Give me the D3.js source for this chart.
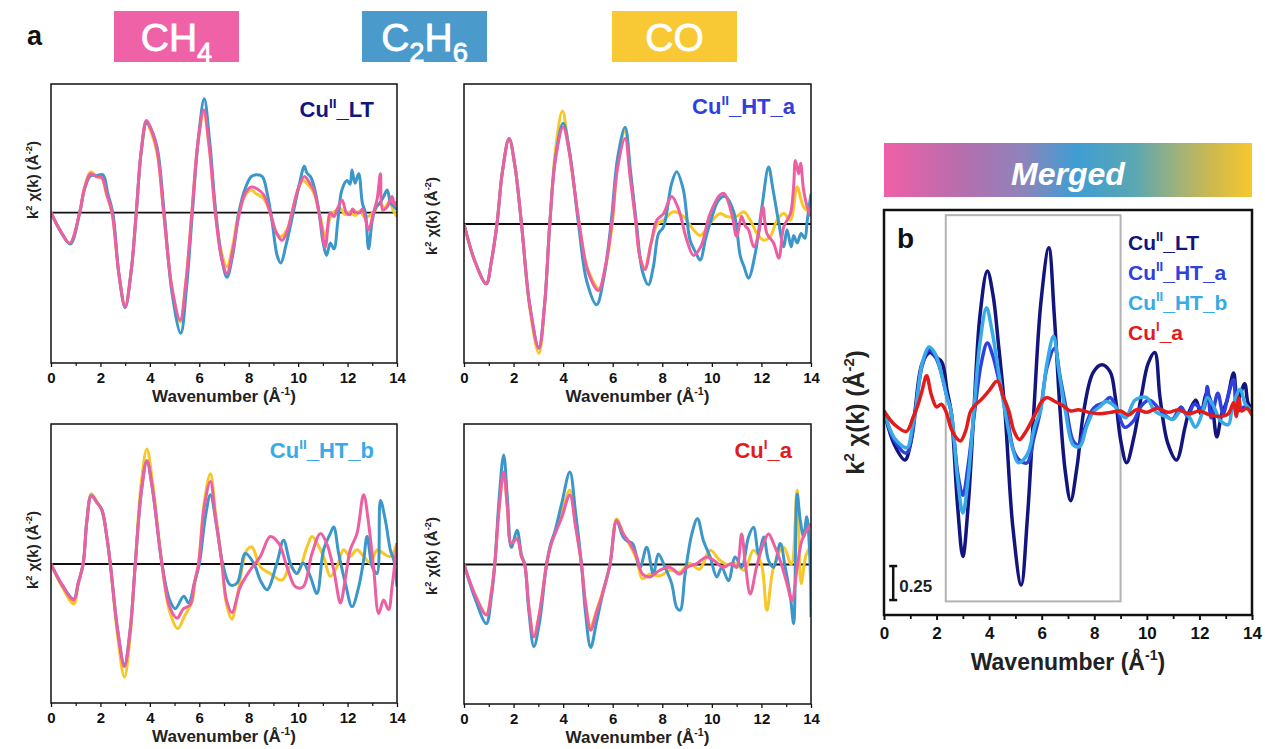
<!DOCTYPE html>
<html><head><meta charset="utf-8">
<script src="https://cdn.jsdelivr.net/npm/d3@7"></script>
<style>
html,body{margin:0;padding:0;background:#fff;}
svg{display:block;font-family:Arial,"Liberation Sans",sans-serif;}
</style></head>
<body>
<svg id="chart" width="1265" height="749"></svg>
<script>
// ---------------- DATA ----------------
const kTicks = [0, 2, 4, 6, 8, 10, 12, 14];
const kMinorTicks = [1, 3, 5, 7, 9, 11, 13];
const gases = ["CH4", "C2H6", "CO"];
const samples = ["CuII_LT", "CuII_HT_a", "CuII_HT_b", "CuI_a"];
const scaleBarValue = 0.25;
const highlightK = [2.35, 9.0];
const highlightV = [-1.4, 1.44];

// Panel a1 : Cu(II)_LT
const lt_CH4 = [[0,0],[0.4,-0.2],[0.76,-0.32],[1.16,0],[1.35,0.25],[1.6,0.41],[1.85,0.38],[2.06,0.37],[2.25,0.2],[2.47,0],[2.75,-0.65],[3.0,-0.99],[3.25,-0.6],[3.45,0],[3.65,0.65],[3.86,0.97],[4.05,0.88],[4.29,0.66],[4.56,0],[4.9,-0.8],[5.23,-1.13],[5.45,-0.75],[5.7,0],[5.95,0.75],[6.18,1.08],[6.4,0.7],[6.65,0],[6.9,-0.48],[7.12,-0.64],[7.35,-0.4],[7.63,0],[7.85,0.2],[8.09,0.27],[8.35,0.25],[8.6,0.19],[8.87,0],[9.1,-0.2],[9.35,-0.29],[9.55,-0.2],[9.75,0],[10.0,0.25],[10.25,0.38],[10.45,0.32],[10.63,0.24],[10.9,-0.08],[11.1,-0.36],[11.3,0],[11.45,-0.04],[11.57,0.03],[11.78,0.13],[11.95,0],[12.1,-0.02],[12.2,0.04],[12.3,0.01],[12.5,0],[12.6,0.04],[12.72,-0.06],[12.85,-0.18],[13.05,0],[13.2,0.15],[13.33,0.41],[13.42,0.03],[13.6,0.06],[13.8,0.17],[13.9,0.08],[14,0.12]];
const lt_C2H6 = [[0,0],[0.4,-0.2],[0.78,-0.33],[1.16,0],[1.35,0.24],[1.6,0.39],[1.85,0.39],[2.1,0.4],[2.3,0.2],[2.5,0],[2.75,-0.65],[3.0,-1.0],[3.25,-0.6],[3.45,0],[3.65,0.64],[3.87,0.95],[4.05,0.88],[4.3,0.68],[4.58,0],[4.9,-0.85],[5.25,-1.27],[5.48,-0.8],[5.72,0],[5.97,0.8],[6.2,1.2],[6.42,0.75],[6.67,0],[6.92,-0.5],[7.12,-0.68],[7.35,-0.45],[7.6,0],[7.85,0.25],[8.1,0.38],[8.3,0.4],[8.55,0.38],[8.75,0.2],[8.95,-0.1],[9.15,-0.45],[9.3,-0.53],[9.5,-0.35],[9.8,0],[10.05,0.3],[10.25,0.49],[10.35,0.42],[10.5,0.38],[10.65,0.27],[10.85,0],[11.0,-0.3],[11.15,-0.45],[11.3,-0.32],[11.45,-0.38],[11.6,-0.1],[11.77,0.24],[11.98,0.34],[12.1,0.3],[12.18,0.45],[12.3,0.31],[12.45,0.41],[12.6,0.1],[12.72,0],[12.85,-0.38],[13.0,-0.08],[13.15,0.06],[13.3,0.1],[13.46,0.17],[13.6,0.24],[13.75,0.1],[13.9,0.06],[14,0.03]];
const lt_CO = [[0,0],[0.4,-0.2],[0.76,-0.32],[1.16,0],[1.35,0.26],[1.6,0.43],[1.85,0.38],[2.06,0.36],[2.25,0.19],[2.47,0],[2.75,-0.65],[3.0,-0.98],[3.25,-0.6],[3.45,0],[3.65,0.64],[3.86,0.95],[4.05,0.85],[4.3,0.62],[4.56,0],[4.9,-0.8],[5.23,-1.15],[5.45,-0.75],[5.7,0],[5.95,0.74],[6.18,1.05],[6.4,0.7],[6.65,0],[6.9,-0.42],[7.12,-0.57],[7.35,-0.35],[7.6,0],[7.85,0.18],[8.1,0.24],[8.3,0.2],[8.6,0.15],[8.87,0],[9.1,-0.2],[9.3,-0.25],[9.55,-0.18],[9.75,0],[10.0,0.25],[10.2,0.34],[10.45,0.28],[10.65,0.2],[10.9,-0.05],[11.1,-0.25],[11.3,-0.05],[11.5,0.02],[11.7,0.05],[11.9,-0.02],[12.1,0.01],[12.3,-0.03],[12.5,0.02],[12.7,-0.05],[12.9,-0.03],[13.1,0.02],[13.3,0.1],[13.5,0.05],[13.7,0.12],[13.85,0.02],[14,-0.04]];

// Panel a2 : Cu(II)_HT_a
const hta_CH4 = [[0,0],[0.45,-0.4],[0.9,-0.63],[1.1,-0.4],[1.33,0],[1.55,0.55],[1.82,0.9],[2.05,0.62],[2.32,0],[2.65,-0.85],[3.02,-1.31],[3.25,-0.85],[3.46,0],[3.7,0.7],[4.0,1.02],[4.25,0.75],[4.65,0],[5.0,-0.5],[5.42,-0.7],[5.7,-0.45],[5.96,0],[6.2,0.6],[6.5,0.9],[6.7,0.5],[6.94,0],[7.1,-0.35],[7.3,-0.48],[7.55,-0.2],[7.78,0.04],[8.05,0.11],[8.38,0.29],[8.65,0.16],[8.99,-0.17],[9.26,-0.33],[9.55,-0.24],[9.93,0.11],[10.34,0.31],[10.5,0.32],[10.8,0.11],[11.0,-0.13],[11.2,0.08],[11.35,-0.02],[11.48,-0.06],[11.69,-0.24],[11.89,-0.1],[12.06,0.18],[12.22,-0.1],[12.49,-0.2],[12.7,-0.36],[12.9,-0.03],[13.17,0.11],[13.3,0.4],[13.37,0.67],[13.5,0.53],[13.58,0.64],[13.7,0.36],[13.85,0.18],[14,0.08]];
const hta_C2H6 = [[0,0],[0.45,-0.4],[0.9,-0.63],[1.1,-0.4],[1.33,0],[1.55,0.55],[1.82,0.9],[2.05,0.62],[2.32,0],[2.65,-0.85],[3.02,-1.3],[3.25,-0.85],[3.46,0],[3.7,0.72],[4.0,1.06],[4.25,0.78],[4.62,0],[4.95,-0.6],[5.35,-0.85],[5.65,-0.55],[5.93,0],[6.2,0.7],[6.5,1.02],[6.72,0.55],[6.96,0],[7.2,-0.5],[7.44,-0.64],[7.64,-0.45],[7.85,-0.1],[8.05,-0.03],[8.38,0.43],[8.58,0.55],[8.85,0.36],[9.12,-0.17],[9.35,-0.3],[9.53,-0.38],[9.75,-0.15],[9.93,0.01],[10.27,0.25],[10.54,0.29],[10.88,0.13],[11.15,-0.34],[11.3,-0.45],[11.48,-0.57],[11.75,-0.31],[12.02,0.18],[12.29,0.6],[12.45,0.39],[12.7,0.01],[12.9,-0.24],[13.03,-0.06],[13.2,-0.24],[13.3,-0.12],[13.44,-0.2],[13.6,-0.1],[13.75,-0.15],[13.85,0.04],[14,0.32]];
const hta_CO = [[0,0],[0.45,-0.4],[0.9,-0.62],[1.1,-0.4],[1.33,0],[1.55,0.56],[1.82,0.9],[2.05,0.62],[2.32,0],[2.65,-0.88],[3.02,-1.36],[3.25,-0.88],[3.46,0],[3.7,0.8],[3.97,1.19],[4.2,0.85],[4.65,0],[5.0,-0.48],[5.45,-0.68],[5.75,-0.4],[5.98,0],[6.2,0.62],[6.5,0.98],[6.7,0.55],[6.94,0],[7.1,-0.35],[7.3,-0.46],[7.55,-0.2],[7.8,0],[8.05,0.04],[8.45,0.13],[8.85,0.08],[9.26,-0.06],[9.53,-0.12],[9.93,0.01],[10.34,0.11],[10.6,0.08],[11.0,0.08],[11.28,0.13],[11.55,0.04],[11.82,-0.1],[12.1,-0.17],[12.36,-0.13],[12.63,0.04],[12.9,0.11],[13.17,0.04],[13.44,0.39],[13.7,0.18],[14,0.11]];

// Panel a3 : Cu(II)_HT_b
const htb_CH4 = [[0,0],[0.45,-0.22],[0.92,-0.38],[1.1,-0.2],[1.3,0],[1.45,0.45],[1.63,0.72],[1.85,0.65],[2.06,0.57],[2.25,0.3],[2.4,0],[2.7,-0.7],[2.97,-1.08],[3.2,-0.7],[3.41,0],[3.65,0.75],[3.88,1.09],[4.1,0.8],[4.49,0],[4.8,-0.45],[5.1,-0.57],[5.36,-0.47],[5.63,-0.43],[5.8,-0.2],[5.97,0],[6.2,0.6],[6.45,0.87],[6.65,0.5],[6.92,0],[7.1,-0.38],[7.32,-0.51],[7.66,-0.24],[8.07,-0.06],[8.47,0.08],[8.87,0.29],[9.21,0.22],[9.55,-0.03],[9.89,-0.24],[10.2,-0.24],[10.56,0.11],[10.9,0.32],[11.15,0.22],[11.44,-0.06],[11.71,-0.41],[11.9,-0.17],[12.11,0.15],[12.38,0.32],[12.65,0.73],[12.85,0.43],[13.06,-0.06],[13.26,-0.52],[13.46,-0.38],[13.66,-0.48],[13.8,-0.24],[14,0.22]];
const htb_C2H6 = [[0,0],[0.45,-0.22],[0.92,-0.37],[1.1,-0.2],[1.3,0],[1.45,0.45],[1.63,0.72],[1.85,0.65],[2.06,0.57],[2.25,0.3],[2.4,0],[2.7,-0.7],[2.97,-1.06],[3.2,-0.7],[3.41,0],[3.65,0.75],[3.88,1.08],[4.1,0.8],[4.49,0],[4.8,-0.38],[5.03,-0.47],[5.37,-0.34],[5.57,-0.41],[5.8,-0.2],[6.0,0],[6.25,0.5],[6.45,0.73],[6.7,0.4],[6.95,0],[7.25,-0.22],[7.53,-0.2],[7.86,0.11],[8.2,0.01],[8.47,-0.17],[8.74,-0.27],[9.14,0.01],[9.41,0.25],[9.68,0.01],[9.95,-0.1],[10.2,0.01],[10.49,-0.13],[10.76,-0.31],[11.03,0.15],[11.3,0.32],[11.44,0.39],[11.64,0.11],[11.91,-0.2],[12.18,-0.45],[12.45,-0.24],[12.65,0.04],[12.79,0.29],[13.0,-0.03],[13.19,-0.1],[13.33,0.67],[13.53,0.46],[13.73,0.15],[13.87,0.04],[14,-0.24]];
const htb_CO = [[0,0],[0.45,-0.24],[0.92,-0.42],[1.1,-0.22],[1.3,0],[1.45,0.46],[1.63,0.74],[1.85,0.66],[2.06,0.56],[2.25,0.3],[2.4,0],[2.7,-0.77],[2.97,-1.19],[3.2,-0.77],[3.41,0],[3.65,0.85],[3.88,1.21],[4.1,0.88],[4.49,0],[4.8,-0.5],[5.13,-0.68],[5.4,-0.55],[5.7,-0.4],[5.85,-0.15],[5.97,0],[6.2,0.65],[6.45,0.95],[6.65,0.55],[6.92,0],[7.1,-0.42],[7.32,-0.58],[7.53,-0.35],[7.93,0.15],[8.13,0.18],[8.47,-0.03],[8.87,-0.1],[9.35,-0.17],[9.68,-0.03],[9.95,-0.1],[10.36,0.18],[10.56,0.29],[10.76,0.22],[11.03,0.08],[11.3,-0.13],[11.57,-0.03],[11.84,0.15],[12.1,0.08],[12.38,0.15],[12.65,0.08],[12.92,0.01],[13.2,0.15],[13.46,0.11],[13.73,0.08],[14,0.22]];

// Panel a4 : Cu(I)_a
const cua_CH4 = [[0,0],[0.45,-0.32],[0.9,-0.53],[1.1,-0.3],[1.24,0],[1.42,0.6],[1.6,0.97],[1.75,0.6],[1.91,0.22],[2.14,0.27],[2.32,0.08],[2.45,0],[2.62,-0.45],[2.82,-0.76],[3.05,-0.5],[3.33,0],[3.5,0.2],[3.67,0.32],[3.95,0.5],[4.27,0.73],[4.5,0.4],[4.74,0],[4.9,-0.4],[5.11,-0.69],[5.35,-0.5],[5.6,-0.3],[5.89,0],[6.16,0.46],[6.43,0.32],[6.7,0.22],[6.97,0.08],[7.2,-0.1],[7.5,-0.13],[7.9,-0.06],[8.31,-0.03],[8.7,-0.1],[8.99,-0.03],[9.39,0.01],[9.8,0.08],[10.1,0.04],[10.46,-0.03],[10.8,0.01],[11.0,-0.03],[11.2,0.32],[11.35,0.01],[11.55,-0.31],[11.8,-0.03],[12.08,0.22],[12.29,0.32],[12.49,0.22],[12.76,0.04],[13.03,-0.2],[13.23,-0.38],[13.44,-0.03],[13.63,0.25],[13.83,0.36],[14,0.43]];
const cua_C2H6 = [[0,0],[0.45,-0.36],[0.9,-0.62],[1.1,-0.35],[1.24,0],[1.42,0.7],[1.6,1.15],[1.75,0.7],[1.91,0.18],[2.14,0.36],[2.32,0.1],[2.45,0],[2.62,-0.5],[2.82,-0.86],[3.05,-0.6],[3.33,0],[3.5,0.22],[3.67,0.35],[3.95,0.65],[4.27,0.97],[4.5,0.55],[4.74,0],[4.9,-0.5],[5.11,-0.87],[5.35,-0.6],[5.6,-0.3],[5.89,0],[6.16,0.46],[6.4,0.3],[6.56,0.25],[6.8,0.22],[7.1,-0.03],[7.37,0.18],[7.64,-0.1],[7.84,0.11],[8.11,-0.03],[8.38,-0.2],[8.58,-0.45],[8.72,-0.48],[8.92,-0.1],[9.19,0.32],[9.42,0.48],[9.66,0.25],[9.93,0.08],[10.2,-0.13],[10.4,-0.03],[10.67,-0.17],[10.94,0.08],[11.2,-0.03],[11.48,0.29],[11.68,0.39],[11.89,0.11],[12.09,0.29],[12.29,0.04],[12.49,-0.03],[12.76,0.22],[12.96,-0.03],[13.17,-0.34],[13.3,-0.62],[13.44,0.74],[13.57,0.46],[13.7,0.29],[13.83,0.5],[13.95,0.1],[14,-0.55]];
const cua_CO = [[0,0],[0.45,-0.32],[0.9,-0.52],[1.1,-0.3],[1.24,0],[1.42,0.6],[1.6,0.96],[1.75,0.6],[1.91,0.22],[2.14,0.28],[2.32,0.08],[2.45,0],[2.62,-0.45],[2.82,-0.75],[3.05,-0.5],[3.33,0],[3.5,0.2],[3.67,0.33],[3.95,0.55],[4.27,0.78],[4.5,0.42],[4.74,0],[4.9,-0.4],[5.11,-0.65],[5.35,-0.48],[5.6,-0.28],[5.89,0],[6.16,0.48],[6.43,0.32],[6.7,0.2],[6.97,0.05],[7.2,-0.15],[7.5,-0.1],[7.9,-0.12],[8.31,-0.06],[8.7,-0.08],[9.1,0.01],[9.5,-0.05],[9.93,0.15],[10.3,0.05],[10.6,0.0],[10.94,0.01],[11.3,-0.06],[11.68,0.15],[12.0,0.0],[12.22,-0.48],[12.49,-0.03],[12.9,0.18],[13.2,0.0],[13.44,0.78],[13.6,-0.2],[13.8,0.1],[14,0.2]];

// Panel b : merged
const merged_LT = [[0,0],[0.4,-0.25],[0.8,-0.36],[1.0,-0.25],[1.18,0],[1.45,0.35],[1.75,0.43],[1.95,0.4],[2.2,0.36],[2.4,0.15],[2.55,0],[2.8,-0.7],[3.0,-1.07],[3.2,-0.7],[3.42,0],[3.65,0.7],[3.93,1.03],[4.15,0.85],[4.35,0.5],[4.6,0],[4.9,-0.85],[5.22,-1.28],[5.45,-0.8],[5.7,0],[5.97,0.8],[6.27,1.2],[6.48,0.7],[6.7,0],[6.9,-0.45],[7.1,-0.66],[7.35,-0.4],[7.6,0],[7.95,0.28],[8.28,0.34],[8.6,0.29],[8.8,0.1],[9.0,-0.21],[9.23,-0.38],[9.5,-0.2],[9.8,0.12],[10.05,0.35],[10.3,0.43],[10.5,0.1],[10.8,-0.24],[11.13,-0.36],[11.45,-0.12],[11.6,-0.01],[11.87,0.08],[12.05,-0.02],[12.28,0.13],[12.47,0.05],[12.66,-0.19],[12.85,-0.02],[13.04,0.07],[13.3,0.28],[13.45,0.08],[13.72,0.2],[13.85,0.06],[14,0.02]];
const merged_HTa = [[0,0],[0.4,-0.22],[0.85,-0.31],[1.05,-0.2],[1.2,0],[1.45,0.33],[1.72,0.45],[1.95,0.4],[2.15,0.3],[2.4,0.1],[2.55,0],[2.8,-0.45],[3.0,-0.62],[3.2,-0.4],[3.45,0],[3.7,0.35],[3.93,0.5],[4.15,0.4],[4.4,0.2],[4.65,0],[4.95,-0.3],[5.2,-0.37],[5.45,-0.38],[5.7,-0.2],[5.95,0],[6.2,0.32],[6.49,0.46],[6.7,0.25],[6.95,0],[7.2,-0.22],[7.4,-0.25],[7.6,-0.15],[7.9,0.0],[8.1,0.04],[8.35,0.06],[8.6,0.1],[8.85,0.02],[9.16,-0.12],[9.5,-0.07],[9.8,0.04],[10.1,0.08],[10.4,0.03],[10.7,-0.03],[10.97,-0.06],[11.3,0.03],[11.55,-0.04],[11.8,0.05],[12.15,0.01],[12.3,0.18],[12.45,-0.05],[12.7,0.13],[12.9,-0.02],[13.1,0.12],[13.3,0.23],[13.45,0.0],[13.7,0.03],[14,0.0]];
const merged_HTb = [[0,0],[0.4,-0.2],[0.88,-0.27],[1.05,-0.15],[1.2,0],[1.45,0.35],[1.72,0.47],[1.95,0.42],[2.15,0.3],[2.4,0.1],[2.55,0],[2.8,-0.5],[3.0,-0.75],[3.2,-0.5],[3.42,0],[3.65,0.5],[3.9,0.76],[4.1,0.6],[4.35,0.3],[4.6,0],[4.9,-0.28],[5.1,-0.38],[5.3,-0.36],[5.5,-0.3],[5.75,-0.1],[5.95,0],[6.2,0.35],[6.45,0.55],[6.65,0.3],[6.9,0],[7.2,-0.25],[7.45,-0.26],[7.7,-0.12],[7.95,-0.01],[8.2,0.03],[8.45,0.07],[8.75,0.04],[9.0,-0.02],[9.2,-0.05],[9.55,0.08],[9.98,0.1],[10.3,0.0],[10.7,-0.04],[11.0,-0.06],[11.3,0.0],[11.6,-0.04],[11.85,-0.12],[12.1,-0.02],[12.3,0.1],[12.55,0.03],[12.8,-0.07],[13.1,-0.1],[13.25,0.02],[13.55,0.16],[13.75,0.05],[14,0.0]];
const merged_CuIa = [[0,0],[0.4,-0.1],[0.85,-0.15],[1.1,-0.05],[1.3,0.05],[1.45,0.15],[1.62,0.26],[1.8,0.12],[2.0,0.03],[2.18,0.05],[2.35,0],[2.6,-0.15],[2.9,-0.22],[3.1,-0.15],[3.3,0],[3.5,0.05],[3.68,0.08],[4.0,0.15],[4.31,0.22],[4.55,0.1],[4.75,0],[4.95,-0.15],[5.15,-0.21],[5.4,-0.15],[5.6,-0.08],[5.81,0],[6.0,0.07],[6.2,0.1],[6.5,0.07],[6.8,0.04],[7.1,0.0],[7.4,0.01],[7.8,-0.01],[8.2,-0.02],[8.6,-0.01],[9.0,0.0],[9.3,-0.03],[9.6,0.01],[10.0,-0.01],[10.4,0.02],[10.8,-0.01],[11.2,0.01],[11.6,-0.02],[12.0,0.0],[12.4,-0.03],[12.8,-0.04],[13.1,-0.02],[13.3,0.06],[13.4,-0.04],[13.5,0.1],[13.6,0.0],[13.8,0.02],[14,-0.03]];

// ---------------- STYLE / LAYOUT ----------------
const gasColors = { CH4: "#ec5fa3", C2H6: "#3b97c9", CO: "#f6c726" };
const gasBox = { CH4: "#ef62a8", C2H6: "#4a9bcb", CO: "#f8c934" };
const sampleColors = { CuII_LT: "#12157e", CuII_HT_a: "#2f40dd", CuII_HT_b: "#38aae6", CuI_a: "#e41b1b" };
const FONT = 'Arial,"Liberation Sans",sans-serif';

const svg = d3.select("#chart");
const defs = svg.append("defs");

// rich text helper: parts = [[text, mode]] mode: "n" | "sup" | "sub"
function rich(textSel, parts, fs) {
  let shift = 0;
  parts.forEach(([t, mode]) => {
    const ts = textSel.append("tspan").text(t);
    let target = 0, size = fs;
    if (mode === "sup") { target = -0.42 * fs; size = 0.62 * fs; }
    if (mode === "sub") { target = 0.28 * fs; size = 0.7 * fs; }
    ts.attr("font-size", size);
    const dy = target - shift;
    if (dy !== 0) ts.attr("dy", dy);
    shift = target;
  });
  return textSel;
}
const cuParts = {
  CuII_LT: [["Cu","n"],["II","sup"],["_LT","n"]],
  CuII_HT_a: [["Cu","n"],["II","sup"],["_HT_a","n"]],
  CuII_HT_b: [["Cu","n"],["II","sup"],["_HT_b","n"]],
  CuI_a: [["Cu","n"],["I","sup"],["_a","n"]]
};
const yLabelParts = [["k","n"],["2","sup"],[" χ(k) (Å","n"],["-2","sup"],[")","n"]];
const xLabelParts = [["Wavenumber (Å","n"],["-1","sup"],[")","n"]];

// ---------- top legend boxes ----------
svg.append("text").attr("x", 27).attr("y", 45).attr("font-size", 27).attr("font-weight", "bold")
  .attr("fill", "#111").attr("font-family", FONT).text("a");

const gasBoxes = [
  { g: "CH4", x: 114, parts: [["CH","n"],["4","sub"]] },
  { g: "C2H6", x: 362, parts: [["C","n"],["2","sub"],["H","n"],["6","sub"]] },
  { g: "CO", x: 612, parts: [["CO","n"]] }
];
gasBoxes.forEach(b => {
  svg.append("rect").attr("x", b.x).attr("y", 11).attr("width", 125).attr("height", 51).attr("fill", gasBox[b.g]);
  const t = svg.append("text").attr("x", b.x + 62.5).attr("y", 51).attr("text-anchor", "middle")
    .attr("fill", "#fff").attr("font-family", FONT).attr("font-size", 39).attr("stroke", "#fff").attr("stroke-width", 0.8);
  rich(t, b.parts, 39);
});

// ---------- panels a ----------
const panelsA = [
  { sample: "CuII_LT", data: { CO: lt_CO, C2H6: lt_C2H6, CH4: lt_CH4 }, x0: 51, x1: 397, y0: 84, y1: 363, yDom: [-1.582, 1.355], lab: [374, 117], ylab: [38, 180] },
  { sample: "CuII_HT_a", data: { CO: hta_CO, C2H6: hta_C2H6, CH4: hta_CH4 }, x0: 464, x1: 811, y0: 84, y1: 363, yDom: [-1.463, 1.474], lab: [795, 114], ylab: [437, 216] },
  { sample: "CuII_HT_b", data: { CO: htb_CO, C2H6: htb_C2H6, CH4: htb_CH4 }, x0: 51, x1: 397, y0: 424, y1: 703, yDom: [-1.463, 1.474], lab: [374, 458], ylab: [38, 550] },
  { sample: "CuI_a", data: { CO: cua_CO, C2H6: cua_C2H6, CH4: cua_CH4 }, x0: 464, x1: 811, y0: 424, y1: 704, yDom: [-1.463, 1.474], lab: [792, 458], ylab: [437, 556] }
];

panelsA.forEach((p, i) => {
  const x = d3.scaleLinear().domain([0, 14]).range([p.x0, p.x1]);
  const y = d3.scaleLinear().domain(p.yDom).range([p.y1, p.y0]);
  const g = svg.append("g");
  const cid = "clipA" + i;
  defs.append("clipPath").attr("id", cid).append("rect")
    .attr("x", p.x0).attr("y", p.y0).attr("width", p.x1 - p.x0).attr("height", p.y1 - p.y0);

  // zero line
  g.append("line").attr("x1", x(0)).attr("x2", x(14)).attr("y1", y(0)).attr("y2", y(0))
    .attr("stroke", "#111").attr("stroke-width", 1.8);

  const line = d3.line().x(d => x(d[0])).y(d => y(d[1])).curve(d3.curveCatmullRom.alpha(0.5));
  const cg = g.append("g").attr("clip-path", `url(#${cid})`);
  ["CO", "C2H6", "CH4"].forEach(gas => {
    cg.append("path").datum(p.data[gas]).attr("d", line).attr("fill", "none")
      .attr("stroke", gasColors[gas]).attr("stroke-width", 3).attr("stroke-linejoin", "round");
  });

  // frame
  g.append("rect").attr("x", p.x0).attr("y", p.y0).attr("width", p.x1 - p.x0).attr("height", p.y1 - p.y0)
    .attr("fill", "none").attr("stroke", "#111").attr("stroke-width", 1.5);

  // axis
  const ax = g.append("g").attr("transform", `translate(0,${p.y1})`)
    .call(d3.axisBottom(x).tickValues(kTicks).tickSize(4).tickPadding(5).tickFormat(d3.format("d")));
  ax.select(".domain").remove();
  ax.selectAll("line").attr("stroke", "#111").attr("stroke-width", 1.3);
  ax.selectAll("text").attr("font-family", FONT).attr("font-size", 15).attr("font-weight", "bold").attr("fill", "#111");
  const axm = g.append("g").attr("transform", `translate(0,${p.y1})`)
    .call(d3.axisBottom(x).tickValues(kMinorTicks).tickSize(3).tickFormat(""));
  axm.select(".domain").remove();
  axm.selectAll("line").attr("stroke", "#111").attr("stroke-width", 1.2);

  // x label
  const xl = g.append("text").attr("x", (p.x0 + p.x1) / 2).attr("y", p.y1 + 39).attr("text-anchor", "middle")
    .attr("font-family", FONT).attr("font-weight", "bold").attr("fill", "#222").attr("font-size", 17);
  rich(xl, xLabelParts, 17);

  // y label
  const yl = g.append("text").attr("transform", `translate(${p.ylab[0]},${p.ylab[1]}) rotate(-90)`)
    .attr("text-anchor", "middle").attr("font-family", FONT).attr("font-weight", "bold").attr("fill", "#222").attr("font-size", 15);
  rich(yl, yLabelParts, 15);

  // sample label
  const sl = g.append("text").attr("x", p.lab[0]).attr("y", p.lab[1]).attr("text-anchor", "end")
    .attr("font-family", FONT).attr("font-weight", "bold").attr("fill", sampleColors[p.sample]).attr("font-size", 22);
  rich(sl, cuParts[p.sample], 22);
});

// ---------- panel b ----------
const B = { x0: 884, x1: 1252, y0: 210, y1: 615 };
const grad = defs.append("linearGradient").attr("id", "mergedGrad").attr("x1", "0%").attr("x2", "100%");
[[0, "#ef5fa7"], [0.22, "#b46fae"], [0.38, "#8d84bb"], [0.52, "#3f9dd3"], [0.68, "#5aa7b3"], [0.8, "#9fb27a"], [0.9, "#d1ba4a"], [1, "#f7c830"]]
  .forEach(([o, c]) => grad.append("stop").attr("offset", o).attr("stop-color", c));
svg.append("rect").attr("x", 884).attr("y", 143).attr("width", 368).attr("height", 54).attr("fill", "url(#mergedGrad)");
svg.append("text").attr("x", 1068).attr("y", 185).attr("text-anchor", "middle").attr("font-family", FONT)
  .attr("font-size", 32).attr("font-weight", "bold").attr("font-style", "italic").attr("fill", "#fff").text("Merged");

const xb = d3.scaleLinear().domain([0, 14]).range([B.x0, B.x1]);
const yb = d3.scaleLinear().domain([-1.5, 1.478]).range([B.y1, B.y0]);
const gb = svg.append("g");
defs.append("clipPath").attr("id", "clipB").append("rect")
  .attr("x", B.x0).attr("y", B.y0).attr("width", B.x1 - B.x0).attr("height", B.y1 - B.y0);

// highlight box
gb.append("rect").attr("x", xb(highlightK[0])).attr("y", yb(highlightV[1]))
  .attr("width", xb(highlightK[1]) - xb(highlightK[0])).attr("height", yb(highlightV[0]) - yb(highlightV[1]))
  .attr("fill", "none").attr("stroke", "#b3b3b3").attr("stroke-width", 2);

const lineB = d3.line().x(d => xb(d[0])).y(d => yb(d[1])).curve(d3.curveCatmullRom.alpha(0.5));
const cgb = gb.append("g").attr("clip-path", "url(#clipB)");
const mergedSeries = [["CuII_LT", merged_LT], ["CuII_HT_a", merged_HTa], ["CuII_HT_b", merged_HTb], ["CuI_a", merged_CuIa]];
mergedSeries.forEach(([s, d]) => {
  cgb.append("path").datum(d).attr("d", lineB).attr("fill", "none").attr("stroke", sampleColors[s])
    .attr("stroke-width", 3.5).attr("stroke-linejoin", "round");
});

gb.append("rect").attr("x", B.x0).attr("y", B.y0).attr("width", B.x1 - B.x0).attr("height", B.y1 - B.y0)
  .attr("fill", "none").attr("stroke", "#111").attr("stroke-width", 2.5);

const axb = gb.append("g").attr("transform", `translate(0,${B.y1})`)
  .call(d3.axisBottom(xb).tickValues(kTicks).tickSize(5).tickPadding(7).tickFormat(d3.format("d")));
axb.select(".domain").remove();
axb.selectAll("line").attr("stroke", "#111").attr("stroke-width", 2);
axb.selectAll("text").attr("font-family", FONT).attr("font-size", 17).attr("font-weight", "bold").attr("fill", "#111");
const axbm = gb.append("g").attr("transform", `translate(0,${B.y1})`)
  .call(d3.axisBottom(xb).tickValues(kMinorTicks).tickSize(4).tickFormat(""));
axbm.select(".domain").remove();
axbm.selectAll("line").attr("stroke", "#111").attr("stroke-width", 1.8);

const xlb = gb.append("text").attr("x", (B.x0 + B.x1) / 2).attr("y", 670).attr("text-anchor", "middle")
  .attr("font-family", FONT).attr("font-weight", "bold").attr("fill", "#222").attr("font-size", 23);
rich(xlb, xLabelParts, 23);
const ylb = gb.append("text").attr("transform", `translate(864,${(B.y0 + B.y1) / 2}) rotate(-90)`)
  .attr("text-anchor", "middle").attr("font-family", FONT).attr("font-weight", "bold").attr("fill", "#222").attr("font-size", 24);
rich(ylb, yLabelParts, 24);

gb.append("text").attr("x", 897).attr("y", 248).attr("font-family", FONT).attr("font-weight", "bold")
  .attr("font-size", 28).attr("fill", "#111").text("b");

// legend
samples.forEach((s, i) => {
  const t = gb.append("text").attr("x", 1128).attr("y", 250 + i * 30).attr("font-family", FONT)
    .attr("font-weight", "bold").attr("font-size", 21).attr("fill", sampleColors[s]);
  rich(t, cuParts[s], 21);
});

// scale bar
const sbX = xb(0.35), sbTop = yb(-1.14), sbBot = yb(-1.14 - scaleBarValue);
gb.append("line").attr("x1", sbX).attr("x2", sbX).attr("y1", sbTop).attr("y2", sbBot).attr("stroke", "#111").attr("stroke-width", 2.5);
[sbTop, sbBot].forEach(yy => gb.append("line").attr("x1", sbX - 4).attr("x2", sbX + 4).attr("y1", yy).attr("y2", yy)
  .attr("stroke", "#111").attr("stroke-width", 2.5));
gb.append("text").attr("x", sbX + 6).attr("y", 592).attr("font-family", FONT).attr("font-size", 17).attr("font-weight", "bold")
  .attr("fill", "#222").text(String(scaleBarValue));
</script>
</body></html>
